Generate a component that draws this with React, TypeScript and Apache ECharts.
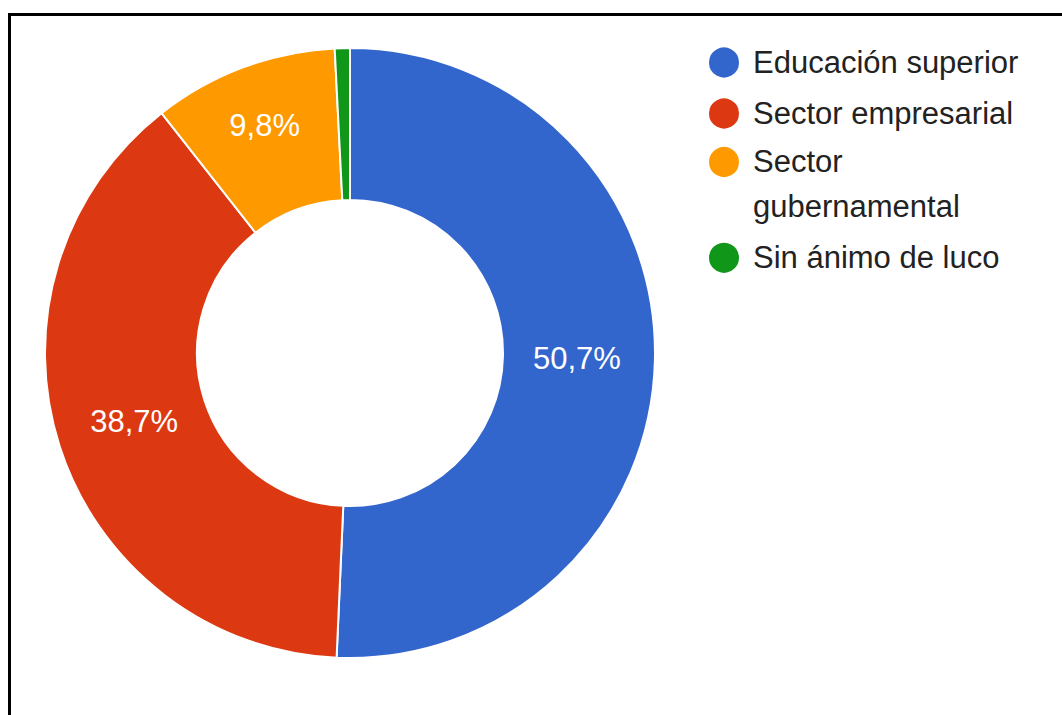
import React, { useEffect, useRef } from 'react';
import * as echarts from 'echarts';

const categories = ['Educación superior', 'Sector empresarial', 'Sector gubernamental', 'Sin ánimo de luco'];
const values = [50.7, 38.7, 9.8, 0.8];
const colors = ['#3366cc', '#dc3912', '#ff9900', '#109618'];
const hiddenLabels = ['Sin ánimo de luco'];
const wrappedLegendNames = ['Sector gubernamental'];

const FONT = "Arial, 'Liberation Sans', sans-serif";
const TEXT_COLOR = '#222222';

export default function App() {
  const ref = useRef<HTMLDivElement>(null);

  useEffect(() => {
    if (!ref.current) return;
    const chart = echarts.init(ref.current, null, { renderer: 'svg' });

    const baseText = { fontFamily: FONT, fontSize: 31, color: TEXT_COLOR };
    const legendBase: any = {
      orient: 'vertical',
      left: 707,
      padding: 0,
      icon: 'circle',
      itemWidth: 32,
      itemHeight: 32,
      itemGap: 17,
      textStyle: { ...baseText, lineHeight: 32, padding: [0, 0, 0, 8] },
    };

    const splitAt = categories.indexOf(wrappedLegendNames[0]);
    const firstGroup = categories.slice(0, splitAt);
    const lastGroup = categories.slice(splitAt + 1);

    const option: any = {
      animation: false,
      legend: [
        { ...legendBase, top: 45.5, data: firstGroup },
        {
          ...legendBase,
          top: 145,
          data: wrappedLegendNames,
          formatter: (name: string) => {
            const parts = name.split(' ');
            return `{a|${parts[0]}}\n{b|${parts.slice(1).join(' ')}}`;
          },
          textStyle: {
            ...baseText,
            padding: [0, 0, 0, 8],
            rich: {
              a: { ...baseText, lineHeight: 88 },
              b: { ...baseText, lineHeight: 1 },
            },
          },
        },
        { ...legendBase, top: 240.8, data: lastGroup },
      ],
      series: [
        {
          type: 'pie',
          center: [350, 353],
          radius: [153, 305],
          startAngle: 90,
          clockwise: true,
          avoidLabelOverlap: false,
          silent: true,
          label: {
            show: true,
            position: 'inside',
            color: '#ffffff',
            fontFamily: FONT,
            fontSize: 31,
            formatter: (p: any) => `${Number(p.value).toFixed(1).replace('.', ',')}%`,
          },
          labelLine: { show: false },
          labelLayout: (p: any) => {
            if (p.dataIndex === 0) return { dx: -5 };
            if (p.dataIndex === 1) return { dx: 5, dy: -2 };
            if (p.dataIndex === 2) return { dx: -4, dy: -10 };
            return {};
          },
          itemStyle: { borderColor: '#ffffff', borderWidth: 2 },
          emphasis: { disabled: true },
          data: categories.map((name, i) => ({
            name,
            value: values[i],
            itemStyle: { color: colors[i] },
            label: hiddenLabels.includes(name) ? { show: false } : undefined,
          })),
        },
      ],
    };
    chart.setOption(option);
    return () => chart.dispose();
  }, []);

  return (
    <>
      <div
        ref={ref}
        style={{ position: 'fixed', left: 0, top: 0, width: 1062, height: 715, background: '#ffffff' }}
      />
      <div
        style={{
          position: 'fixed',
          left: 8,
          top: 13,
          width: 1120,
          height: 800,
          border: '3px solid #000000',
          boxSizing: 'border-box',
          pointerEvents: 'none',
        }}
      />
    </>
  );
}
